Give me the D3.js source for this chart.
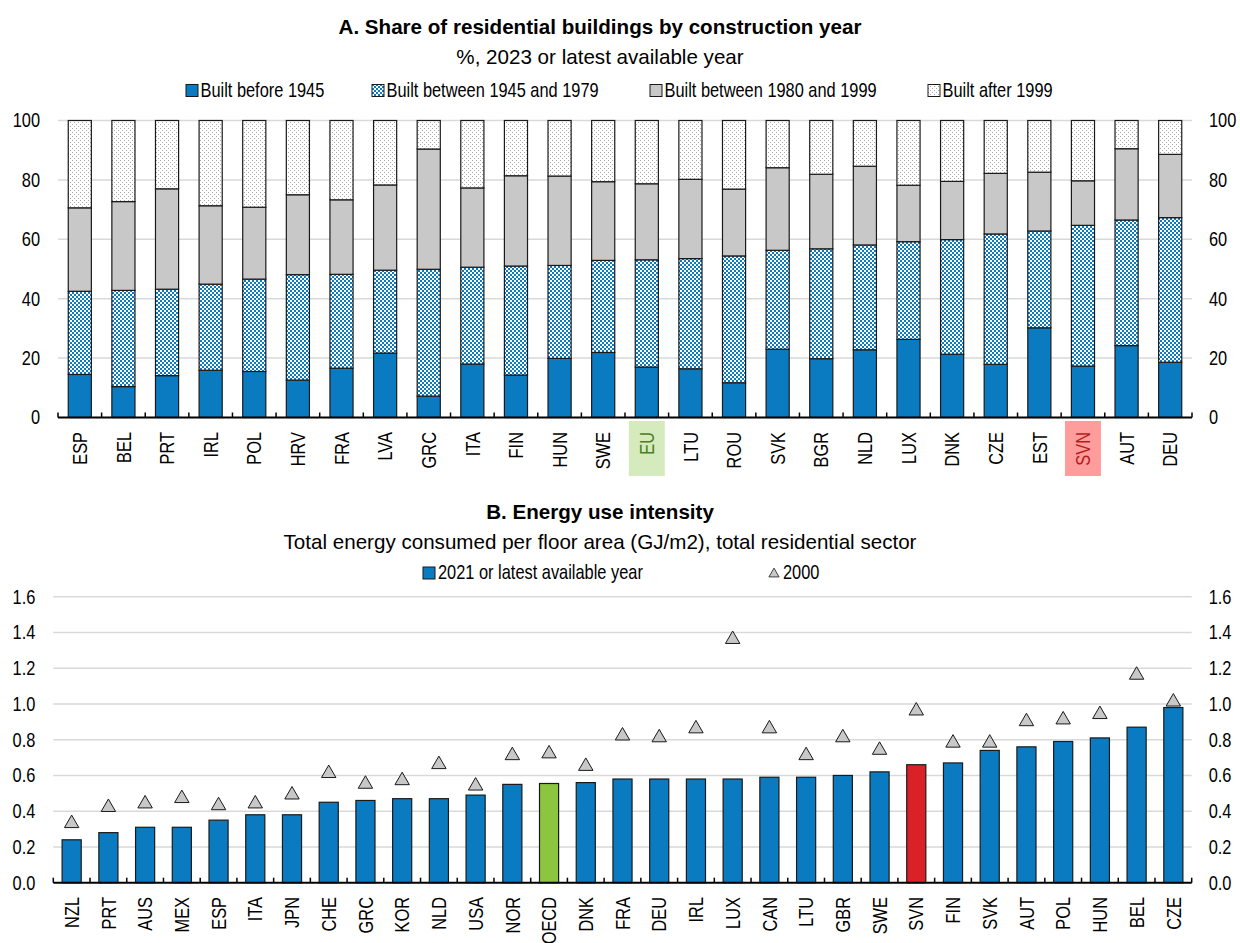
<!DOCTYPE html>
<html>
<head>
<meta charset="utf-8">
<script src="https://cdn.jsdelivr.net/npm/d3@7"></script>
<style>
  body { margin: 0; background: #fff; }
  text { font-family: "Liberation Sans", Arial, sans-serif; fill: #000; }
</style>
</head>
<body>
<svg id="chart" width="1240" height="943"></svg>
<script>
// ---- panel A data (% of residential buildings)
var countriesA = ["ESP","BEL","PRT","IRL","POL","HRV","FRA","LVA","GRC","ITA","FIN","HUN","SWE","EU",
                  "LTU","ROU","SVK","BGR","NLD","LUX","DNK","CZE","EST","SVN","AUT","DEU"];
var before1945  = [14.5,10.4,14.1,15.9,15.5,12.6,16.6,21.7, 7.2,18.0,14.3,19.9,21.9,17.0,
                   16.4,11.7,23.0,19.8,22.8,26.3,21.3,17.9,30.2,17.3,24.2,18.6];
var from1945to1979 = [28.0,32.4,29.1,29.0,31.1,35.5,31.6,27.9,42.7,32.6,36.7,31.3,31.0,36.1,
                   37.1,42.7,33.3,37.0,35.3,32.9,38.6,43.9,32.6,47.4,42.3,48.7];
var from1980to1999 = [28.1,29.9,33.8,26.4,24.2,26.9,25.1,28.7,40.5,26.7,30.4,30.1,26.5,25.6,
                   26.7,22.5,27.8,25.1,26.5,19.0,19.6,20.4,19.8,15.0,24.0,21.3];
var after1999   = [29.4,27.3,23.0,28.7,29.2,25.0,26.7,21.7, 9.6,22.7,18.6,18.7,20.6,21.3,
                   19.8,23.1,15.9,18.1,15.4,21.8,20.5,17.8,17.4,20.3, 9.5,11.4];
var seriesA = ["Built before 1945","Built between 1945 and 1979","Built between 1980 and 1999","Built after 1999"];
var ticksA = [0,20,40,60,80,100];

// ---- panel B data (GJ/m2)
var countriesB = ["NZL","PRT","AUS","MEX","ESP","ITA","JPN","CHE","GRC","KOR","NLD","USA","NOR","OECD","DNK",
                  "FRA","DEU","IRL","LUX","CAN","LTU","GBR","SWE","SVN","FIN","SVK","AUT","POL","HUN","BEL","CZE"];
var latest   = [0.24,0.28,0.31,0.31,0.35,0.38,0.38,0.45,0.46,0.47,0.47,0.49,0.55,0.555,0.56,
                0.58,0.58,0.58,0.58,0.59,0.59,0.60,0.62,0.66,0.67,0.74,0.76,0.79,0.81,0.87,0.98];
var year2000 = [0.34,0.43,0.45,0.48,0.44,0.45,0.50,0.62,0.56,0.58,0.67,0.55,0.72,0.73,0.66,
                0.83,0.82,0.87,1.37,0.87,0.72,0.82,0.75,0.97,0.79,0.79,0.91,0.92,0.95,1.17,1.02];
var seriesB = ["2021 or latest available year","2000"];
var ticksB = [0,0.2,0.4,0.6,0.8,1.0,1.2,1.4,1.6];

var blue = "#0b7bc1", grey = "#c8c8c8", gridColor = "#d9d9d9", outline = "#1a1a1a";
var squeeze = 0.82;   // the source uses a narrow face; squeeze the regular one

var svg = d3.select("#chart");
var defs = svg.append("defs");

// checker pattern for 1945-1979
var chk = defs.append("pattern").attr("id","checker").attr("patternUnits","userSpaceOnUse")
    .attr("width",4).attr("height",4);
chk.append("rect").attr("width",4).attr("height",4).attr("fill","#fff");
chk.append("rect").attr("width",2).attr("height",2).attr("fill",blue);
chk.append("rect").attr("x",2).attr("y",2).attr("width",2).attr("height",2).attr("fill",blue);

// dotted pattern for after 1999
var dots = defs.append("pattern").attr("id","dots").attr("patternUnits","userSpaceOnUse")
    .attr("width",4).attr("height",4);
dots.append("rect").attr("width",4).attr("height",4).attr("fill","#fff");
dots.append("rect").attr("width",1).attr("height",1).attr("fill","#a8a8a8");
dots.append("rect").attr("x",2).attr("y",2).attr("width",1).attr("height",1).attr("fill","#a8a8a8");

var fillsA = [blue, "url(#checker)", grey, "url(#dots)"];

function narrow(sel) {
  sel.each(function(){
    var t = d3.select(this);
    var x = +t.attr("x") || 0;
    var tr = t.attr("transform") || "";
    t.attr("x", x / squeeze).attr("transform", tr + " scale(" + squeeze + ",1)");
  });
}

function titleBlock(y, title, sub) {
  svg.append("text").attr("x",600).attr("y",y).attr("text-anchor","middle")
    .style("font-weight","bold").style("font-size","20.6px").text(title);
  svg.append("text").attr("x",600).attr("y",y+30).attr("text-anchor","middle")
    .style("font-size","20.6px").text(sub);
}

function gridAndAxes(y, ticks, left, right, fmt) {
  var g = svg.append("g");
  g.selectAll("line.grid").data(ticks.filter(function(t){ return t > 0; }))
    .enter().append("line")
      .attr("x1",left).attr("x2",right)
      .attr("y1",function(d){ return y(d); }).attr("y2",function(d){ return y(d); })
      .attr("stroke",gridColor).attr("stroke-width",1.5);
  var la = svg.append("g").attr("transform","translate("+left+",0)")
    .call(d3.axisLeft(y).tickValues(ticks).tickSize(0).tickPadding(18).tickFormat(fmt));
  var ra = svg.append("g").attr("transform","translate("+right+",0)")
    .call(d3.axisRight(y).tickValues(ticks).tickSize(0).tickPadding(17).tickFormat(fmt));
  [la, ra].forEach(function(a){
    a.select(".domain").remove();
    a.selectAll("text").style("font-size","20px").attr("font-family",null).call(narrow);
  });
}

function baseAxis(x, y0, left, right) {
  var n = x.domain().length, step = x.step();
  svg.append("g").selectAll("line").data(d3.range(n+1)).enter().append("line")
    .attr("x1",function(i){ return left + i*step; }).attr("x2",function(i){ return left + i*step; })
    .attr("y1",y0-5).attr("y2",y0).attr("stroke","#000").attr("stroke-width",1.5);
  svg.append("line").attr("x1",left).attr("x2",right).attr("y1",y0).attr("y2",y0)
    .attr("stroke","#000").attr("stroke-width",2);
}

function catLabels(x, yTop, highlight) {
  var g = svg.append("g");
  x.domain().forEach(function(c){
    var cx = x(c) + x.bandwidth()/2;
    var h = highlight[c];
    if (h) {
      g.append("rect").attr("x",cx-18).attr("y",yTop-11).attr("width",36).attr("height",55)
        .attr("fill",h.bg);
    }
    g.append("text")
      .attr("transform","translate("+cx+","+yTop+") rotate(-90)")
      .attr("text-anchor","end").attr("dy","0.36em")
      .style("font-size","20px").style("fill", h ? h.fg : "#000")
      .text(c).call(narrow);
  });
}

// ================= Panel A =================
var leftA = 58, rightA = 1192;
var xA = d3.scaleBand().domain(countriesA).range([leftA,rightA]).paddingInner(0.47).paddingOuter(0.235);
var yA = d3.scaleLinear().domain([0,100]).range([417.5,120.5]);

titleBlock(34, "A. Share of residential buildings by construction year", "%, 2023 or latest available year");

// legend A
var legA = [{x:186},{x:372},{x:650},{x:928}];
seriesA.forEach(function(s,i){
  svg.append("rect").attr("x",legA[i].x).attr("y",84.5).attr("width",12).attr("height",12)
    .attr("fill",fillsA[i]).attr("stroke",outline).attr("stroke-width",1);
  svg.append("text").attr("x",legA[i].x+14.5).attr("y",97).style("font-size","20px").text(s).call(narrow);
});

gridAndAxes(yA, ticksA, leftA, rightA, d3.format("d"));

var stackRows = countriesA.map(function(c,i){
  return {c:c, s0:before1945[i], s1:from1945to1979[i], s2:from1980to1999[i], s3:after1999[i]};
});
var stackA = d3.stack().keys(["s0","s1","s2","s3"])(stackRows);
svg.append("g").selectAll("g").data(stackA).enter().append("g")
  .attr("fill",function(d,i){ return fillsA[i]; })
  .selectAll("rect").data(function(d){ return d; }).enter().append("rect")
    .attr("x",function(d){ return xA(d.data.c); })
    .attr("width",xA.bandwidth())
    .attr("y",function(d){ return yA(d[1]); })
    .attr("height",function(d){ return yA(d[0]) - yA(d[1]); })
    .attr("stroke",outline).attr("stroke-width",1.2);

baseAxis(xA, yA(0), leftA, rightA);
catLabels(xA, 432, {EU:{bg:"#d5ebbd",fg:"#4f7d22"}, SVN:{bg:"#ff9c9c",fg:"#b51d1d"}});

// ================= Panel B =================
var leftB = 53.3, rightB = 1191.7;
var xB = d3.scaleBand().domain(countriesB).range([leftB,rightB]).paddingInner(0.48).paddingOuter(0.24);
var yB = d3.scaleLinear().domain([0,1.6]).range([882.7,596.7]);

titleBlock(519, "B. Energy use intensity", "Total energy consumed per floor area (GJ/m2), total residential sector");

// legend B
svg.append("rect").attr("x",423).attr("y",567).attr("width",12).attr("height",12)
  .attr("fill",blue).attr("stroke",outline).attr("stroke-width",1);
svg.append("text").attr("x",438).attr("y",579).style("font-size","20px").text(seriesB[0]).call(narrow);
svg.append("path").attr("d",d3.symbol(d3.symbolTriangle,45)())
  .attr("transform","translate(774,574)")
  .attr("fill",grey).attr("stroke",outline).attr("stroke-width",0.8);
svg.append("text").attr("x",783).attr("y",579).style("font-size","20px").text(seriesB[1]).call(narrow);

gridAndAxes(yB, ticksB, leftB, rightB, d3.format(".1f"));

var barColor = function(c){ return c === "OECD" ? "#8cc540" : (c === "SVN" ? "#db2128" : blue); };
svg.append("g").selectAll("rect").data(countriesB).enter().append("rect")
  .attr("x",function(c){ return xB(c); })
  .attr("width",xB.bandwidth())
  .attr("y",function(c,i){ return yB(latest[i]); })
  .attr("height",function(c,i){ return yB(0) - yB(latest[i]); })
  .attr("fill",barColor).attr("stroke",outline).attr("stroke-width",1.2);

svg.append("g").selectAll("path").data(countriesB).enter().append("path")
  .attr("d",d3.symbol(d3.symbolTriangle,90)())
  .attr("transform",function(c,i){ return "translate("+(xB(c)+xB.bandwidth()/2)+","+(yB(year2000[i])+1.5)+")"; })
  .attr("fill",grey).attr("stroke",outline).attr("stroke-width",1);

baseAxis(xB, yB(0), leftB, rightB);
catLabels(xB, 897, {});
</script>
</body>
</html>
